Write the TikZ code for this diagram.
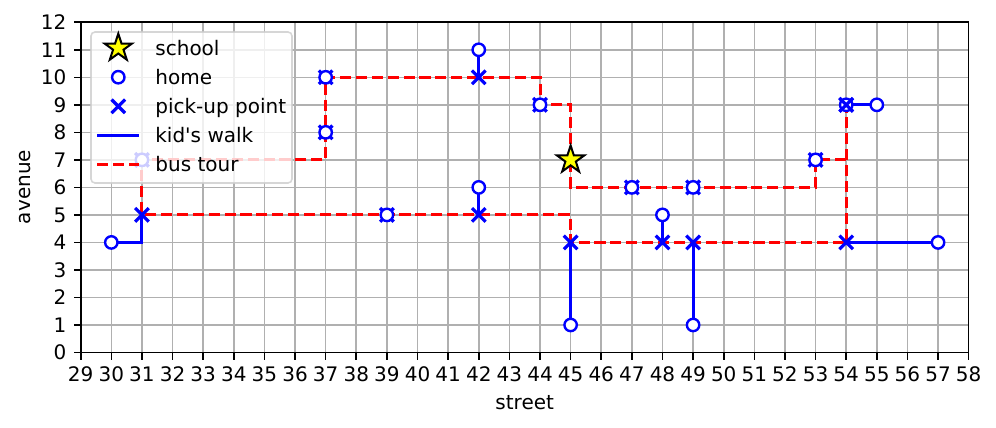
\documentclass[tikz,border=0pt]{standalone}
\usepackage{fontspec}
\setmainfont[Ligatures=TeXOff]{DejaVu Sans}
\usetikzlibrary{shapes.geometric,shapes.misc}
\definecolor{gridgray}{HTML}{B0B0B0}
\definecolor{mblue}{HTML}{0000FF}
\definecolor{mred}{HTML}{FF0000}
\definecolor{myellow}{HTML}{FFFF00}
\definecolor{legedge}{HTML}{CCCCCC}
\tikzset{
  gridline/.style={draw=gridgray, line width=0.8pt},
  tickline/.style={draw=black, line width=0.8pt},
  walk/.style={draw=mblue, line width=1.5pt},
  tour/.style={draw=mred, line width=1.5pt, dash pattern=on 5.55pt off 2.4pt},
  homemark/.style={circle, draw=mblue, fill=white, line width=1.2pt, minimum size=6.2pt, inner sep=0pt},
  pickmark/.style={cross out, draw=mblue, line width=1.6pt, minimum size=5.2pt, inner sep=0pt},
  schoolmark/.style={star, star points=5, star point ratio=2.618, draw=black, fill=myellow, line width=1pt, minimum size=14.4pt, inner sep=0pt},
  legtext/.style={anchor=base west, inner sep=0pt, font=\fontsize{10}{12}\selectfont},
  ticklabel/.style={inner sep=0pt, font=\fontsize{10}{12}\selectfont},
  axlabel/.style={inner sep=0pt, font=\fontsize{10}{12}\selectfont},
  legendbox/.style={rounded corners=2pt, fill=white, fill opacity=0.8, draw=legedge, draw opacity=0.8, line width=0.8pt}
}
\begin{document}
\begin{tikzpicture}[x=0.5pt,y=-0.5pt]
\useasboundingbox (0,0) rectangle (996,428);
\begin{scope}[shift={(-807.28,352.5)}, x=15.31pt, y=13.76pt]
  % grid
  \foreach \i in {29,...,58} \draw[gridline] (\i,0) -- (\i,12);
  \foreach \j in {0,...,12} \draw[gridline] (29,\j) -- (58,\j);
  % points
  \coordinate (sc) at (45,7);
  \coordinate (t1) at (45,9);  \coordinate (t2) at (44,9);  \coordinate (t3) at (44,10);
  \coordinate (t4) at (37,10); \coordinate (t5) at (37,7);  \coordinate (t6) at (31,7);
  \coordinate (t7) at (31,5);  \coordinate (t8) at (45,5);  \coordinate (t9) at (45,4);
  \coordinate (t10) at (54,4); \coordinate (t11) at (54,9); \coordinate (t12) at (54,7);
  \coordinate (t13) at (53,7); \coordinate (t14) at (53,6); \coordinate (t15) at (45,6);
  \coordinate (h30a) at (30,4); \coordinate (w30) at (31,4);
  \coordinate (h42a) at (42,11); \coordinate (p42a) at (42,10);
  \coordinate (h42b) at (42,6); \coordinate (p42b) at (42,5);
  \coordinate (h45) at (45,1);
  \coordinate (h48) at (48,5); \coordinate (p48) at (48,4);
  \coordinate (h49) at (49,1); \coordinate (p49) at (49,4);
  \coordinate (h57) at (57,4);
  \coordinate (h55) at (55,9);
  \coordinate (h37b) at (37,8); \coordinate (h39) at (39,5);
  \coordinate (h47) at (47,6); \coordinate (h49b) at (49,6);
  % bus tour
  \draw[tour] (sc) -- (t1) -- (t2) -- (t3) -- (t4) -- (t5) -- (t6) -- (t7) -- (t8) -- (t9) -- (t10) -- (t11);
  \draw[tour] (t12) -- (t13) -- (t14) -- (t15) -- (sc);
  % kid's walks
  \draw[walk] (h30a) -- (w30) -- (t7);
  \draw[walk] (h42a) -- (p42a);
  \draw[walk] (h42b) -- (p42b);
  \draw[walk] (h45) -- (t9);
  \draw[walk] (h48) -- (p48);
  \draw[walk] (h49) -- (p49);
  \draw[walk] (h57) -- (t10);
  \draw[walk] (h55) -- (t11);
  % pick-up points
  \foreach \c/\n in {t7/x1, p42a/x2, p42b/x3, t9/x4, p48/x5, p49/x6, t10/x7, t11/x8,
                     t6/x9, t4/x10, h37b/x11, h39/x12, t2/x13, h47/x14, h49b/x15, t13/x16}
    \node[pickmark] (\n) at (\c) {};
  % homes
  \foreach \c/\n in {h30a/o1, h42a/o2, h42b/o3, h45/o4, h48/o5, h49/o6, h57/o7, h55/o8,
                     t6/o9, t4/o10, h37b/o11, h39/o12, t2/o13, h47/o14, h49b/o15, t13/o16, t11/o17}
    \node[homemark] (\n) at (\c) {};
  \node[pickmark] (x17) at (t11) {};
  % school
  \node[schoolmark] (school) at (sc) {};
  % frame and ticks
  \coordinate (ll) at (29,0); \coordinate (ur) at (58,12);
  \draw[tickline] (ll) rectangle (ur);
  \foreach \i in {29,...,58} {
    \draw[tickline] (\i,0) -- ++(0,-3.5pt);
    \node[ticklabel, anchor=north] (xl\i) at ([yshift=-7pt]\i,0) {\i};
  }
  \foreach \j in {0,...,12} {
    \draw[tickline] (29,\j) -- ++(-3.5pt,0);
    \node[ticklabel, anchor=east] (yl\j) at ([xshift=-7pt]29,\j) {\j};
  }
\end{scope}
% axis labels
\node[axlabel] (xlab) at (524.7,402.7) {street};
\node[axlabel, rotate=90] (ylab) at (25,187) {avenue};
% legend
\draw[legendbox] (91,32) rectangle (292,183);
\node[schoolmark] (lstar) at (118.3,48) {};
\node[homemark] (lhome) at (118.3,77.2) {};
\node[pickmark] (lpick) at (118.3,106.3) {};
\coordinate (lw1) at (97.3,135.5); \coordinate (lw2) at (139.3,135.5);
\draw[walk] (lw1) -- (lw2);
\coordinate (lt1) at (97.3,164.7); \coordinate (lt2) at (139.3,164.7);
\draw[tour] (lt1) -- (lt2);
\node[legtext] (ls) at (155,55) {school};
\node[legtext] (lh) at (155,84.2) {home};
\node[legtext] (lp) at (155,113.3) {pick-up point};
\node[legtext] (lk) at (155,142.5) {kid's walk};
\node[legtext] (lb) at (155,171.7) {bus tour};
\end{tikzpicture}
\end{document}
